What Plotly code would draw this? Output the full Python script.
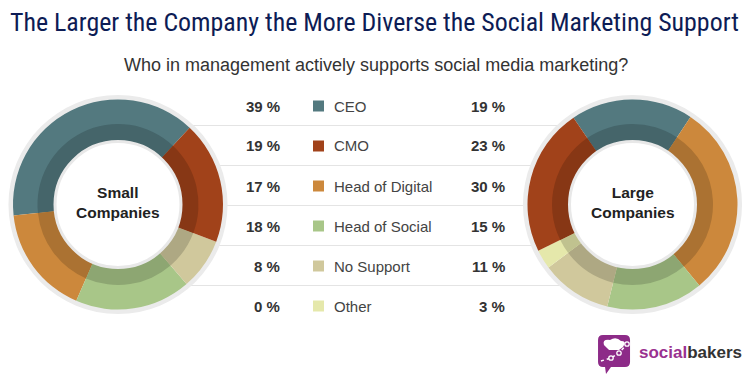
import plotly.graph_objects as go

W, H = 753, 384

# ---------------- data ----------------
categories = ["CEO", "CMO", "Head of Digital", "Head of Social", "No Support", "Other"]
small_values = [39, 19, 17, 18, 8, 0]
large_values = [19, 23, 30, 15, 11, 3]
colors = ["#53797f", "#a1421a", "#cc883c", "#a8c688", "#d0c89c", "#e5e8ab"]
# drawing order of slices around each ring
ring_order = ["CEO", "Head of Digital", "Head of Social", "No Support", "Other", "CMO"]

title_text = "The Larger the Company the More Diverse the Social Marketing Support"
subtitle_text = "Who in management actively supports social media marketing?"
small_label = "Small<br>Companies"
large_label = "Large<br>Companies"


def darker(hex_color, f=0.84):
    h = hex_color.lstrip("#")
    r, g, b = (int(h[i:i + 2], 16) for i in (0, 2, 4))
    return "#%02x%02x%02x" % (int(r * f), int(g * f), int(b * f))


def px(x):
    return x / W


def py(y):
    return 1 - y / H


def dom(cx, cy, r):
    return dict(x=[px(cx - r), px(cx + r)], y=[py(cy + r), py(cy - r)])


fig = go.Figure()


def add_donut(cx, cy, values, direction, rotation):
    idx = [categories.index(c) for c in ring_order]
    vals = [values[i] for i in idx]
    cols = [colors[i] for i in idx]
    dcols = [darker(c) for c in cols]
    common = dict(sort=False, textinfo="none", hoverinfo="skip", showlegend=False,
                  direction=direction, rotation=rotation)
    # outer grey border ring
    fig.add_trace(go.Pie(values=[1], labels=["ring"], domain=dom(cx, cy, 109.5), hole=104 / 109.5,
                         marker=dict(colors=["#ebebeb"], line=dict(width=0)),
                         sort=False, textinfo="none", hoverinfo="skip", showlegend=False))
    # main ring
    fig.add_trace(go.Pie(values=vals, labels=ring_order, domain=dom(cx, cy, 105), hole=62 / 105,
                         marker=dict(colors=cols, line=dict(width=0)), **common))
    # darker inner band
    fig.add_trace(go.Pie(values=vals, labels=ring_order, domain=dom(cx, cy, 80.5), hole=62 / 80.5,
                         marker=dict(colors=dcols, line=dict(width=0)), **common))
    # white centre with soft grey edge
    fig.add_trace(go.Pie(values=[1], labels=["centre"], domain=dom(cx, cy, 63), hole=0,
                         marker=dict(colors=["#ffffff"], line=dict(width=3, color="#e8e8e8")),
                         sort=False, textinfo="none", hoverinfo="skip", showlegend=False))


add_donut(118, 204.5, small_values, "counterclockwise", -96)
add_donut(632.5, 204.5, large_values, "clockwise", -34.2)

shapes = []
annotations = []

# row separators (behind the donuts)
for i in range(len(categories) - 1):
    y = 125.5 + 40 * i
    shapes.append(dict(type="line", xref="paper", yref="paper", x0=px(150), x1=px(600),
                       y0=py(y), y1=py(y), line=dict(color="#e4e4e4", width=1), layer="below"))

# table rows
for i, cat in enumerate(categories):
    yc = 106 + 40 * i
    annotations.append(dict(text="<b>%d %%</b>" % small_values[i], x=px(282), y=py(yc),
                            xanchor="right", yanchor="middle", showarrow=False,
                            font=dict(family="Liberation Sans, Arial", size=15, color="#333333")))
    annotations.append(dict(text="<b>%d %%</b>" % large_values[i], x=px(507), y=py(yc),
                            xanchor="right", yanchor="middle", showarrow=False,
                            font=dict(family="Liberation Sans, Arial", size=15, color="#333333")))
    annotations.append(dict(text=cat, x=px(332), y=py(yc), xanchor="left", yanchor="middle",
                            showarrow=False,
                            font=dict(family="Liberation Sans, Arial", size=15, color="#444444")))
    shapes.append(dict(type="rect", xref="paper", yref="paper", x0=px(313), x1=px(324),
                       y0=py(yc + 5.5), y1=py(yc - 5.5), fillcolor=colors[i], line=dict(width=0)))

# centre labels
for cx, lab in [(118, small_label), (632.5, large_label)]:
    annotations.append(dict(text="<b>%s</b>" % lab, x=px(cx), y=py(202.5), xanchor="center",
                            yanchor="middle", showarrow=False,
                            font=dict(family="Liberation Sans, Arial", size=15.5, color="#222222")))

# title & subtitle
annotations.append(dict(text=title_text, x=px(8), y=py(22), xanchor="left", yanchor="middle",
                        showarrow=False,
                        font=dict(family="Liberation Sans Narrow, Roboto Condensed, Roboto", size=25.9,
                                  color="#0d1c55")))
annotations.append(dict(text=subtitle_text, x=px(375.5), y=py(65), xanchor="center", yanchor="middle",
                        showarrow=False,
                        font=dict(family="Liberation Sans, Arial", size=18, color="#333333")))

# socialbakers logo
def P(x, y):
    return "%.4f,%.4f" % (px(x), py(y))

x0, y0, x1, y1, rr = 598, 335, 630, 367, 5
logo_path = ("M %s L %s Q %s %s L %s Q %s %s L %s L %s L %s L %s Q %s %s L %s Q %s %s Z" % (
    P(x0 + rr, y0), P(x1 - rr, y0), P(x1, y0), P(x1, y0 + rr), P(x1, y1 - rr), P(x1, y1), P(x1 - rr, y1),
    P(611, y1), P(606, 374), P(605, y1), P(x0 + rr, y1), P(x0, y1), P(x0, y1 - rr), P(x0, y0 + rr),
    P(x0, y0), P(x0 + rr, y0)))
shapes.append(dict(type="path", xref="paper", yref="paper", path=logo_path,
                   fillcolor="#8d2b88", line=dict(width=0)))
hat = ("M %s Q %s %s Q %s %s Q %s %s L %s L %s Z" % (
    P(604, 345), P(602, 339), P(610, 340), P(616, 336), P(621, 341), P(627, 341), P(623, 347),
    P(619, 350), P(609, 350)))
shapes.append(dict(type="path", xref="paper", yref="paper", path=hat,
                   fillcolor="#ffffff", line=dict(width=0)))
chart_line = "M %s L %s L %s L %s" % (P(601, 361), P(611, 358), P(619, 353), P(627, 344))
shapes.append(dict(type="path", xref="paper", yref="paper", path=chart_line,
                   line=dict(color="#ffffff", width=1.5, dash="dot")))
for (a, b) in [(611, 358), (619, 353), (627, 344)]:
    shapes.append(dict(type="circle", xref="paper", yref="paper", x0=px(a - 2.2), x1=px(a + 2.2),
                       y0=py(b + 2.2), y1=py(b - 2.2), fillcolor="#8d2b88",
                       line=dict(color="#ffffff", width=1.3)))
annotations.append(dict(text="<b><span style='color:#9a3190'>social</span>bakers</b>",
                        x=px(637), y=py(352), xanchor="left", yanchor="middle", showarrow=False,
                        font=dict(family="Liberation Sans, Arial", size=17, color="#333333")))

fig.update_layout(width=W, height=H, margin=dict(l=0, r=0, t=0, b=0),
                  paper_bgcolor="#ffffff", plot_bgcolor="#ffffff",
                  shapes=shapes, annotations=annotations)

fig.write_html("out.html", config={"displayModeBar": False},
               post_script="document.body.style.margin='0';document.body.style.overflow='hidden';")
